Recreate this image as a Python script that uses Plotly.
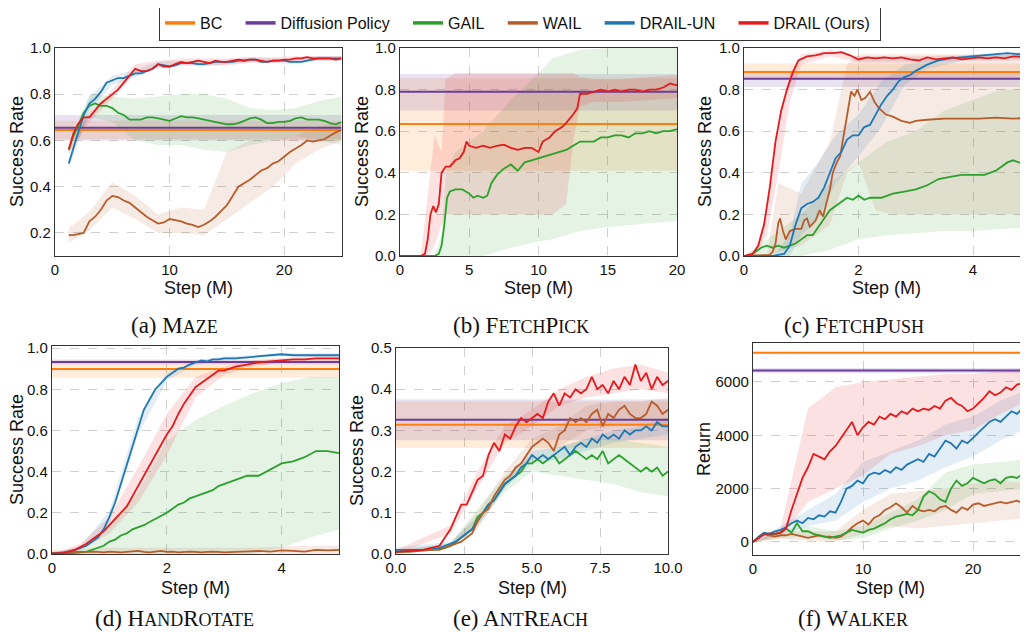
import plotly.graph_objects as go

# ---------------- names / labels ----------------
METHODS = ["BC", "Diffusion Policy", "GAIL", "WAIL", "DRAIL-UN", "DRAIL (Ours)"]
CAPTIONS = ["(a) Maze", "(b) FetchPick", "(c) FetchPush", "(d) HandRotate", "(e) AntReach", "(f) Walker"]
Y_TITLES = ["Success Rate", "Success Rate", "Success Rate", "Success Rate", "Success Rate", "Return"]
X_TITLE = "Step (M)"

# ---------------- (a) MAZE ----------------
A_STEPS = [0, 25]
A_BC = 0.645; A_BC_BAND = [0.605, 0.685]
A_DP = 0.655; A_DP_BAND = [0.60, 0.71]
A_X = [1.2, 1.6, 2.0, 2.5, 3.0, 3.5, 4.0, 4.5, 5.0, 5.5, 6.0, 6.5, 7.0, 7.5, 8.0, 8.5, 9.0, 9.5, 10.0, 10.5,
       11.0, 11.5, 12.0, 12.5, 13.0, 13.5, 14.0, 14.5, 15.0, 15.5, 16.0, 16.5, 17.0, 17.5, 18.0, 18.5, 19.0,
       19.5, 20.0, 20.5, 21.0, 21.5, 22.0, 22.5, 23.0, 23.5, 24.0, 24.5, 25.0]
A_DRAIL = [0.56, 0.63, 0.67, 0.70, 0.70, 0.73, 0.76, 0.78, 0.80, 0.82, 0.85, 0.88, 0.91, 0.90, 0.90, 0.91, 0.93,
           0.92, 0.92, 0.93, 0.94, 0.935, 0.94, 0.945, 0.94, 0.935, 0.945, 0.94, 0.94, 0.945, 0.95, 0.945, 0.95,
           0.95, 0.945, 0.94, 0.945, 0.945, 0.95, 0.95, 0.955, 0.955, 0.96, 0.955, 0.955, 0.955, 0.955, 0.95, 0.955]
A_UN = [0.50, 0.57, 0.63, 0.71, 0.76, 0.78, 0.81, 0.85, 0.86, 0.87, 0.87, 0.88, 0.89, 0.89, 0.90, 0.91, 0.93,
        0.925, 0.92, 0.925, 0.935, 0.935, 0.935, 0.93, 0.93, 0.935, 0.94, 0.94, 0.94, 0.94, 0.945, 0.945, 0.95,
        0.95, 0.94, 0.94, 0.945, 0.945, 0.945, 0.94, 0.94, 0.94, 0.945, 0.95, 0.955, 0.955, 0.955, 0.955, 0.955]
A_GAIL = [0.56, 0.62, 0.66, 0.72, 0.75, 0.76, 0.75, 0.75, 0.74, 0.72, 0.71, 0.69, 0.69, 0.69, 0.70, 0.70, 0.695,
          0.69, 0.685, 0.695, 0.705, 0.70, 0.70, 0.695, 0.69, 0.685, 0.68, 0.675, 0.67, 0.67, 0.675, 0.685, 0.695,
          0.70, 0.69, 0.675, 0.675, 0.68, 0.68, 0.685, 0.695, 0.70, 0.69, 0.69, 0.69, 0.685, 0.675, 0.67, 0.68]
A_WAIL = [0.19, 0.19, 0.195, 0.20, 0.25, 0.27, 0.30, 0.34, 0.36, 0.355, 0.34, 0.33, 0.31, 0.29, 0.27, 0.255, 0.24,
          0.245, 0.26, 0.255, 0.25, 0.24, 0.235, 0.225, 0.235, 0.25, 0.27, 0.295, 0.32, 0.36, 0.40, 0.415, 0.43,
          0.45, 0.47, 0.48, 0.50, 0.51, 0.53, 0.55, 0.565, 0.58, 0.60, 0.595, 0.60, 0.605, 0.62, 0.635, 0.645]
A_BX = [1.2, 3, 5, 7, 9, 11, 13, 15, 17, 19, 21, 23, 25]
A_DRAIL_LO = [0.54, 0.68, 0.78, 0.89, 0.91, 0.925, 0.925, 0.925, 0.935, 0.935, 0.945, 0.945, 0.945]
A_DRAIL_HI = [0.58, 0.72, 0.82, 0.93, 0.945, 0.955, 0.955, 0.955, 0.96, 0.96, 0.965, 0.965, 0.965]
A_UN_LO = [0.48, 0.73, 0.84, 0.875, 0.92, 0.925, 0.92, 0.93, 0.94, 0.935, 0.93, 0.945, 0.945]
A_UN_HI = [0.52, 0.79, 0.88, 0.905, 0.94, 0.945, 0.94, 0.95, 0.96, 0.955, 0.95, 0.965, 0.965]
A_GAIL_LO = [0.54, 0.70, 0.68, 0.60, 0.58, 0.58, 0.56, 0.55, 0.58, 0.60, 0.62, 0.60, 0.58]
A_GAIL_HI = [0.58, 0.80, 0.79, 0.78, 0.79, 0.80, 0.80, 0.78, 0.74, 0.73, 0.74, 0.77, 0.79]
A_WAIL_LO = [0.16, 0.21, 0.31, 0.26, 0.20, 0.20, 0.19, 0.26, 0.33, 0.40, 0.50, 0.56, 0.60]
A_WAIL_HI = [0.22, 0.29, 0.42, 0.36, 0.28, 0.31, 0.30, 0.55, 0.60, 0.60, 0.62, 0.66, 0.68]

# ---------------- (b) FETCHPICK ----------------
B_STEPS = [0, 20]
B_BC = 0.635; B_BC_BAND = [0.41, 0.855]
B_DP = 0.79; B_DP_BAND = [0.70, 0.875]
B_X_DRAIL = [0, 1.5, 1.8, 2.0, 2.2, 2.4, 2.6, 2.8, 3.0, 3.3, 3.6, 4.0, 4.3, 4.6, 4.8, 5.0, 5.5, 6.0, 6.5, 7.0,
             7.5, 8.0, 8.5, 9.0, 9.5, 10.0, 10.3, 10.8, 11.2, 11.7, 12.0, 12.5, 12.8, 13.0, 13.5, 14.0, 14.5,
             15.0, 15.5, 16.0, 16.5, 17.0, 17.5, 18.0, 18.5, 19.0, 19.5, 20.0]
B_DRAIL = [0, 0, 0.01, 0.08, 0.20, 0.24, 0.21, 0.25, 0.40, 0.43, 0.43, 0.46, 0.47, 0.50, 0.55, 0.53, 0.52, 0.53,
           0.52, 0.53, 0.535, 0.52, 0.51, 0.52, 0.52, 0.50, 0.55, 0.57, 0.60, 0.62, 0.64, 0.68, 0.71, 0.78, 0.78,
           0.79, 0.80, 0.79, 0.80, 0.79, 0.80, 0.80, 0.79, 0.80, 0.80, 0.81, 0.83, 0.82]
B_X_GAIL = [0, 2.5, 2.8, 3.0, 3.2, 3.4, 3.6, 4.0, 4.5, 5.0, 5.3, 5.6, 6.0, 6.3, 6.6, 7.0, 7.5, 8.0, 8.5, 9.0,
            9.5, 10.0, 10.5, 11.0, 11.5, 12.0, 12.5, 13.0, 13.5, 14.0, 14.5, 15.0, 15.5, 16.0, 16.5, 17.0, 17.5,
            18.0, 18.5, 19.0, 19.5, 20.0]
B_GAIL = [0, 0, 0.01, 0.05, 0.15, 0.28, 0.31, 0.32, 0.32, 0.30, 0.28, 0.29, 0.28, 0.29, 0.35, 0.39, 0.42, 0.44,
          0.41, 0.45, 0.46, 0.47, 0.48, 0.49, 0.50, 0.51, 0.53, 0.55, 0.55, 0.55, 0.57, 0.57, 0.58, 0.58, 0.57,
          0.59, 0.59, 0.60, 0.59, 0.60, 0.60, 0.61]
B_BX_DRAIL = [1.5, 2.0, 2.5, 3.0, 3.3, 4, 6, 8, 10, 11, 12, 12.5, 13, 14, 16, 18, 20]
B_DRAIL_LO = [0, 0, 0.05, 0.15, 0.2, 0.2, 0.2, 0.2, 0.2, 0.2, 0.25, 0.55, 0.72, 0.74, 0.74, 0.75, 0.76]
B_DRAIL_HI = [0, 0.3, 0.58, 0.5, 0.85, 0.88, 0.88, 0.88, 0.88, 0.88, 0.88, 0.88, 0.86, 0.85, 0.85, 0.86, 0.87]
B_BX_GAIL = [2.5, 3.0, 3.3, 4, 6, 8, 10, 11, 12, 13, 15, 20]
B_GAIL_LO = [0, 0, 0, 0, 0, 0.04, 0.07, 0.08, 0.1, 0.12, 0.14, 0.17]
B_GAIL_HI = [0, 0.1, 0.4, 0.5, 0.6, 0.75, 0.88, 0.95, 0.97, 0.99, 1.0, 1.0]

# ---------------- (c) FETCHPUSH ----------------
C_STEPS = [0, 4.96]
C_BC = 0.885; C_BC_BAND = [0.85, 0.925]
C_DP = 0.852; C_DP_BAND = [0.812, 0.89]
C_X_DRAIL = [0, 0.15, 0.25, 0.35, 0.45, 0.55, 0.65, 0.75, 0.85, 0.95, 1.1, 1.25, 1.4, 1.55, 1.7, 1.85, 2.0,
             2.15, 2.3, 2.45, 2.6, 2.75, 2.9, 3.05, 3.2, 3.35, 3.5, 3.65, 3.8, 3.95, 4.1, 4.25, 4.4, 4.55, 4.7, 4.96]
C_DRAIL = [0, 0.01, 0.05, 0.15, 0.33, 0.55, 0.70, 0.80, 0.88, 0.94, 0.96, 0.965, 0.975, 0.975, 0.98, 0.965,
           0.945, 0.955, 0.95, 0.955, 0.95, 0.955, 0.945, 0.94, 0.955, 0.945, 0.95, 0.955, 0.945, 0.95, 0.955,
           0.95, 0.955, 0.95, 0.96, 0.955]
C_X_UN = [0, 0.5, 0.6, 0.7, 0.8, 0.9, 1.0, 1.1, 1.2, 1.3, 1.4, 1.5, 1.6, 1.7, 1.8, 1.9, 2.0, 2.1, 2.2, 2.3,
          2.4, 2.5, 2.6, 2.7, 2.8, 2.9, 3.0, 3.2, 3.4, 3.6, 3.8, 4.0, 4.2, 4.4, 4.6, 4.8, 4.96]
C_UN = [0, 0, 0.005, 0.01, 0.05, 0.15, 0.23, 0.25, 0.26, 0.28, 0.33, 0.40, 0.47, 0.50, 0.56, 0.58, 0.58, 0.62,
        0.63, 0.68, 0.73, 0.77, 0.80, 0.84, 0.86, 0.87, 0.89, 0.92, 0.94, 0.95, 0.955, 0.96, 0.965, 0.97, 0.975,
        0.97, 0.97]
C_X_WAIL = [0, 0.45, 0.5, 0.55, 0.6, 0.63, 0.68, 0.73, 0.8, 0.9, 1.0, 1.05, 1.1, 1.15, 1.25, 1.32, 1.38, 1.44,
            1.5, 1.55, 1.62, 1.68, 1.73, 1.78, 1.83, 1.87, 1.93, 1.98, 2.05, 2.12, 2.2, 2.28, 2.36, 2.48, 2.6,
            2.75, 2.9, 3.0, 3.2, 3.5, 3.8, 4.1, 4.4, 4.7, 4.96]
C_WAIL = [0, 0.005, 0.02, 0.06, 0.16, 0.18, 0.12, 0.08, 0.12, 0.13, 0.13, 0.17, 0.18, 0.14, 0.17, 0.22, 0.19,
          0.25, 0.32, 0.40, 0.45, 0.48, 0.56, 0.64, 0.74, 0.79, 0.77, 0.80, 0.75, 0.76, 0.79, 0.74, 0.71, 0.68,
          0.67, 0.65, 0.64, 0.65, 0.655, 0.66, 0.66, 0.66, 0.665, 0.66, 0.665]
C_X_GAIL = [0, 0.1, 0.2, 0.3, 0.4, 0.5, 0.6, 0.7, 0.8, 0.9, 1.0, 1.1, 1.2, 1.3, 1.4, 1.5, 1.6, 1.7, 1.8, 1.9,
            2.0, 2.1, 2.2, 2.4, 2.6, 2.8, 3.0, 3.2, 3.4, 3.6, 3.8, 4.0, 4.2, 4.4, 4.6, 4.7, 4.8, 4.96]
C_GAIL = [0, 0, 0.02, 0.04, 0.05, 0.04, 0.05, 0.04, 0.05, 0.06, 0.08, 0.10, 0.10, 0.14, 0.18, 0.22, 0.24, 0.26,
          0.28, 0.27, 0.29, 0.27, 0.28, 0.28, 0.30, 0.31, 0.32, 0.34, 0.37, 0.38, 0.39, 0.39, 0.39, 0.41, 0.45,
          0.46, 0.45, 0.44]
C_BX_DRAIL = [0, 0.2, 0.4, 0.6, 0.8, 1.0, 1.5, 2.0, 3.0, 4.0, 4.96]
C_DRAIL_LO = [0, 0, 0.1, 0.4, 0.74, 0.92, 0.96, 0.93, 0.93, 0.94, 0.94]
C_DRAIL_HI = [0, 0.03, 0.22, 0.62, 0.88, 0.97, 0.99, 0.96, 0.96, 0.965, 0.965]
C_BX_UN = [0.5, 0.8, 1.0, 1.3, 1.6, 2.0, 2.4, 2.8, 3.2, 4.0, 4.96]
C_UN_LO = [0, 0, 0.1, 0.18, 0.35, 0.48, 0.62, 0.82, 0.9, 0.95, 0.96]
C_UN_HI = [0, 0.1, 0.35, 0.45, 0.58, 0.68, 0.84, 0.92, 0.94, 0.97, 0.98]
C_BX_WAIL = [0.4, 0.6, 1.0, 1.5, 1.8, 2.0, 2.3, 2.6, 4.96]
C_WAIL_LO = [0, 0.02, 0.05, 0.15, 0.4, 0.45, 0.22, 0.2, 0.2]
C_WAIL_HI = [0, 0.35, 0.3, 0.55, 0.92, 0.97, 0.97, 0.97, 0.97]
C_BX_GAIL = [0, 0.5, 1.0, 1.5, 2.0, 2.5, 3.0, 3.5, 4.0, 4.5, 4.96]
C_GAIL_LO = [0, 0, 0.0, 0.03, 0.08, 0.1, 0.11, 0.12, 0.12, 0.13, 0.14]
C_GAIL_HI = [0, 0.1, 0.2, 0.35, 0.45, 0.55, 0.6, 0.7, 0.75, 0.8, 0.8]

# ---------------- (d) HANDROTATE ----------------
D_STEPS = [0, 5]
D_BC = 0.898; D_BC_BAND = [0.856, 0.94]
D_DP = 0.932; D_DP_BAND = [0.92, 0.945]
D_X = [0, 0.2, 0.4, 0.6, 0.7, 0.8, 0.9, 1.0, 1.1, 1.2, 1.3, 1.4, 1.5, 1.6, 1.7, 1.8, 1.9, 2.0, 2.1, 2.2, 2.3,
       2.4, 2.5, 2.6, 2.7, 2.8, 2.9, 3.0, 3.2, 3.4, 3.6, 3.8, 4.0, 4.2, 4.4, 4.6, 4.8, 5.0]
D_UN = [0, 0.005, 0.02, 0.04, 0.06, 0.08, 0.12, 0.18, 0.25, 0.34, 0.43, 0.53, 0.62, 0.70, 0.75, 0.80, 0.83,
        0.86, 0.88, 0.90, 0.905, 0.92, 0.93, 0.94, 0.935, 0.945, 0.945, 0.95, 0.95, 0.955, 0.96, 0.965, 0.97,
        0.965, 0.965, 0.965, 0.965, 0.965]
D_DRAIL = [0, 0.005, 0.02, 0.05, 0.07, 0.09, 0.11, 0.14, 0.17, 0.20, 0.23, 0.28, 0.33, 0.38, 0.43, 0.48, 0.53,
           0.58, 0.62, 0.68, 0.73, 0.77, 0.81, 0.83, 0.85, 0.87, 0.89, 0.89, 0.91, 0.92, 0.93, 0.935, 0.94,
           0.945, 0.945, 0.95, 0.95, 0.95]
D_GAIL = [0, 0.002, 0.005, 0.01, 0.02, 0.03, 0.04, 0.06, 0.07, 0.09, 0.10, 0.12, 0.13, 0.14, 0.155, 0.17,
          0.185, 0.20, 0.22, 0.24, 0.25, 0.27, 0.28, 0.29, 0.30, 0.31, 0.33, 0.34, 0.36, 0.38, 0.38, 0.41, 0.44,
          0.45, 0.47, 0.50, 0.50, 0.49]
D_WAIL = [0.005, 0.008, 0.01, 0.01, 0.012, 0.01, 0.008, 0.012, 0.01, 0.008, 0.01, 0.012, 0.015, 0.01, 0.008,
          0.012, 0.015, 0.01, 0.012, 0.008, 0.01, 0.012, 0.01, 0.008, 0.01, 0.012, 0.01, 0.008, 0.01, 0.012,
          0.015, 0.012, 0.018, 0.015, 0.012, 0.02, 0.018, 0.02]
D_BX = [0, 0.5, 1.0, 1.5, 2.0, 2.5, 3.0, 3.5, 4.0, 4.5, 5.0]
D_UN_LO = [0, 0.02, 0.15, 0.58, 0.84, 0.92, 0.94, 0.95, 0.96, 0.96, 0.96]
D_UN_HI = [0, 0.04, 0.21, 0.66, 0.88, 0.94, 0.96, 0.965, 0.975, 0.975, 0.975]
D_DRAIL_LO = [0, 0.02, 0.10, 0.25, 0.48, 0.76, 0.87, 0.91, 0.93, 0.94, 0.94]
D_DRAIL_HI = [0, 0.05, 0.18, 0.42, 0.68, 0.86, 0.91, 0.94, 0.95, 0.96, 0.96]
D_GAIL_LO = [0, 0, 0, 0, 0, 0, 0, 0, 0.03, 0.08, 0.12]
D_GAIL_HI = [0, 0.02, 0.15, 0.3, 0.55, 0.65, 0.72, 0.78, 0.83, 0.86, 0.86]
D_WAIL_LO = [0, 0, 0, 0, 0, 0, 0, 0, 0, 0, 0]
D_WAIL_HI = [0.02, 0.025, 0.03, 0.03, 0.03, 0.03, 0.03, 0.03, 0.035, 0.04, 0.04]

# ---------------- (e) ANTREACH ----------------
E_STEPS = [0, 10]
E_BC = 0.314; E_BC_BAND = [0.257, 0.37]
E_DP = 0.326; E_DP_BAND = [0.276, 0.375]
E_X = [0, 0.5, 1.0, 1.3, 1.6, 1.8, 2.0, 2.2, 2.4, 2.6, 2.8, 3.0, 3.2, 3.4, 3.6, 3.8, 4.0, 4.2, 4.4, 4.6, 4.8,
       5.0, 5.2, 5.4, 5.6, 5.8, 6.0, 6.2, 6.4, 6.6, 6.8, 7.0, 7.2, 7.4, 7.6, 7.8, 8.0, 8.2, 8.4, 8.6, 8.8, 9.0,
       9.2, 9.4, 9.6, 9.8, 10.0]
E_DRAIL = [0.005, 0.008, 0.01, 0.015, 0.02, 0.04, 0.06, 0.09, 0.12, 0.12, 0.15, 0.18, 0.19, 0.24, 0.27, 0.25,
           0.29, 0.28, 0.31, 0.33, 0.32, 0.33, 0.34, 0.33, 0.37, 0.39, 0.36, 0.39, 0.38, 0.40, 0.39, 0.40, 0.43,
           0.40, 0.41, 0.39, 0.42, 0.40, 0.43, 0.41, 0.46, 0.42, 0.44, 0.40, 0.43, 0.41, 0.42]
E_WAIL = [0.005, 0.005, 0.008, 0.01, 0.01, 0.015, 0.02, 0.025, 0.03, 0.04, 0.05, 0.08, 0.10, 0.11, 0.14, 0.16,
          0.18, 0.19, 0.21, 0.22, 0.24, 0.26, 0.27, 0.28, 0.27, 0.25, 0.29, 0.30, 0.33, 0.32, 0.33, 0.32, 0.34,
          0.35, 0.31, 0.34, 0.33, 0.35, 0.36, 0.34, 0.33, 0.33, 0.34, 0.37, 0.36, 0.34, 0.35]
E_UN = [0.01, 0.01, 0.01, 0.012, 0.015, 0.02, 0.025, 0.03, 0.04, 0.05, 0.06, 0.08, 0.10, 0.12, 0.13, 0.15,
        0.17, 0.18, 0.19, 0.21, 0.22, 0.24, 0.23, 0.24, 0.23, 0.24, 0.25, 0.26, 0.24, 0.26, 0.27, 0.26, 0.28,
        0.27, 0.29, 0.28, 0.29, 0.28, 0.30, 0.29, 0.30, 0.30, 0.31, 0.30, 0.32, 0.31, 0.31]
E_GAIL = [0.005, 0.008, 0.01, 0.01, 0.012, 0.015, 0.02, 0.03, 0.04, 0.05, 0.06, 0.09, 0.10, 0.12, 0.13, 0.15,
          0.17, 0.18, 0.19, 0.20, 0.22, 0.22, 0.23, 0.22, 0.23, 0.24, 0.22, 0.23, 0.24, 0.25, 0.24, 0.23, 0.24,
          0.23, 0.25, 0.22, 0.23, 0.24, 0.23, 0.22, 0.21, 0.20, 0.21, 0.20, 0.21, 0.19, 0.20]
E_BX = [0, 2, 3, 4, 5, 6, 7, 8, 9, 10]
E_DRAIL_LO = [0, 0.05, 0.16, 0.27, 0.31, 0.36, 0.38, 0.39, 0.40, 0.39]
E_DRAIL_HI = [0.01, 0.07, 0.20, 0.31, 0.35, 0.40, 0.43, 0.45, 0.46, 0.44]
E_WAIL_LO = [0, 0.015, 0.06, 0.16, 0.24, 0.26, 0.30, 0.31, 0.31, 0.32]
E_WAIL_HI = [0.01, 0.025, 0.10, 0.20, 0.28, 0.31, 0.36, 0.37, 0.37, 0.38]
E_UN_LO = [0.005, 0.02, 0.07, 0.16, 0.22, 0.23, 0.25, 0.27, 0.28, 0.29]
E_UN_HI = [0.015, 0.03, 0.09, 0.18, 0.25, 0.26, 0.28, 0.30, 0.31, 0.33]
E_GAIL_LO = [0, 0.015, 0.07, 0.15, 0.20, 0.19, 0.18, 0.17, 0.15, 0.14]
E_GAIL_HI = [0.01, 0.025, 0.11, 0.19, 0.24, 0.26, 0.28, 0.28, 0.27, 0.26]

# ---------------- (f) WALKER ----------------
F_STEPS = [0, 25]
F_BC = 7090; F_BC_BAND = [7050, 7130]
F_DP = 6425; F_DP_BAND = [6330, 6520]
F_X = [0, 0.5, 1, 1.5, 2, 2.5, 3, 3.5, 4, 4.5, 5, 5.5, 6, 6.5, 7, 7.5, 8, 8.5, 9, 9.5, 10, 10.5, 11, 11.5, 12,
       12.5, 13, 13.5, 14, 14.5, 15, 15.5, 16, 16.5, 17, 17.5, 18, 18.5, 19, 19.5, 20, 20.5, 21, 21.5, 22, 22.5,
       23, 23.5, 24, 24.5, 25]
F_DRAIL = [0, 150, 280, 320, 300, 350, 500, 1200, 1800, 2400, 2800, 3300, 3200, 3100, 3400, 3600, 3900, 4200,
           4500, 4000, 4300, 4500, 4400, 4700, 4600, 4800, 4700, 4900, 4800, 5000, 4900, 5000, 4950, 5100, 5000,
           5300, 5400, 5200, 5100, 4900, 5000, 5200, 5400, 5650, 5500, 5600, 5800, 5700, 5900, 5950, 6000]
F_UN = [0, 200, 350, 300, 400, 450, 550, 700, 800, 700, 900, 850, 1000, 950, 1150, 1100, 1500, 2000, 2100,
        2300, 2200, 2500, 2600, 2550, 2700, 2600, 2800, 2700, 2900, 3000, 3100, 3000, 3300, 3200, 3500, 3800,
        3700, 3500, 3800, 3700, 3900, 4100, 4300, 4500, 4600, 4500, 4700, 4900, 4800, 5000, 4900]
F_GAIL = [0, 150, 300, 250, 300, 350, 500, 350, 700, 400, 400, 300, 250, 200, 150, 200, 250, 350, 450, 400,
          350, 450, 500, 600, 700, 850, 950, 1000, 1050, 1000, 1200, 1700, 1900, 1800, 1600, 1500, 2000, 2300,
          2100, 2200, 2400, 2300, 2200, 2300, 2350, 2200, 2400, 2450, 2400, 2550, 2550]
F_WAIL = [0, 150, 300, 250, 200, 250, 250, 300, 250, 200, 150, 200, 250, 200, 200, 150, 200, 350, 550, 700,
          800, 650, 900, 1000, 1200, 1300, 1450, 1300, 1100, 1350, 1200, 1150, 1200, 1150, 1300, 1350, 1200,
          1100, 1300, 1200, 1400, 1450, 1350, 1400, 1450, 1500, 1450, 1500, 1550, 1450, 1500]
F_BX = [0, 2.5, 5, 7.5, 10, 12.5, 15, 17.5, 20, 22.5, 25]
F_DRAIL_LO = [0, 200, 1500, 2000, 2500, 3300, 3600, 4000, 4200, 4800, 5300]
F_DRAIL_HI = [0, 500, 5000, 5800, 6000, 6100, 6200, 6300, 6300, 6400, 6500]
F_UN_LO = [0, 300, 600, 800, 1500, 2000, 2300, 2800, 3200, 3800, 4300]
F_UN_HI = [0, 600, 1200, 1800, 3000, 3400, 3800, 4400, 4700, 5300, 5700]
F_GAIL_LO = [0, 150, 200, 50, 150, 500, 800, 1200, 1800, 1900, 2000]
F_GAIL_HI = [0, 450, 600, 400, 600, 1100, 1600, 2600, 2900, 3000, 3100]
F_WAIL_LO = [0, 100, 50, 0, 300, 600, 500, 600, 700, 800, 900]
F_WAIL_HI = [0, 400, 400, 400, 1200, 1800, 1900, 2000, 2200, 2300, 2200]

# ---------------- style ----------------
COL = {"BC": "#ff7f0e", "Diffusion Policy": "#6a3d9a", "GAIL": "#2ca02c", "WAIL": "#b85c2c",
       "DRAIL-UN": "#1f77b4", "DRAIL (Ours)": "#e41a1c"}


def rgba(hexc, a):
    h = hexc.lstrip("#")
    return "rgba(%d,%d,%d,%.3f)" % (int(h[0:2], 16), int(h[2:4], 16), int(h[4:6], 16), a)


fig = go.Figure()


def band(i, x, lo, hi, name, a=0.13):
    fig.add_trace(go.Scatter(
        x=list(x) + list(x)[::-1], y=list(hi) + list(lo)[::-1], fill="toself",
        fillcolor=rgba(COL[name], a), line=dict(width=0), mode="lines", hoverinfo="skip",
        showlegend=False, xaxis="x%d" % i, yaxis="y%d" % i))


def line(i, x, y, name, w=1.8):
    fig.add_trace(go.Scatter(
        x=x, y=y, mode="lines", line=dict(color=COL[name], width=w), showlegend=False,
        name=name, xaxis="x%d" % i, yaxis="y%d" % i))


def hband(i, steps, bnd, name):
    band(i, steps, [bnd[0]] * 2, [bnd[1]] * 2, name, 0.15)


def hline(i, steps, val, name):
    line(i, steps, [val, val], name, 2.0)


panels = [
    dict(steps=A_STEPS, bc=A_BC, bcb=A_BC_BAND, dp=A_DP, dpb=A_DP_BAND,
         bands=[(A_BX, A_GAIL_LO, A_GAIL_HI, "GAIL"), (A_BX, A_WAIL_LO, A_WAIL_HI, "WAIL"),
                (A_BX, A_UN_LO, A_UN_HI, "DRAIL-UN"), (A_BX, A_DRAIL_LO, A_DRAIL_HI, "DRAIL (Ours)")],
         lines=[(A_X, A_GAIL, "GAIL"), (A_X, A_WAIL, "WAIL"), (A_X, A_UN, "DRAIL-UN"), (A_X, A_DRAIL, "DRAIL (Ours)")]),
    dict(steps=B_STEPS, bc=B_BC, bcb=B_BC_BAND, dp=B_DP, dpb=B_DP_BAND,
         bands=[(B_BX_GAIL, B_GAIL_LO, B_GAIL_HI, "GAIL"), (B_BX_DRAIL, B_DRAIL_LO, B_DRAIL_HI, "DRAIL (Ours)")],
         lines=[(B_X_GAIL, B_GAIL, "GAIL"), (B_X_DRAIL, B_DRAIL, "DRAIL (Ours)")]),
    dict(steps=C_STEPS, bc=C_BC, bcb=C_BC_BAND, dp=C_DP, dpb=C_DP_BAND,
         bands=[(C_BX_GAIL, C_GAIL_LO, C_GAIL_HI, "GAIL"), (C_BX_WAIL, C_WAIL_LO, C_WAIL_HI, "WAIL"),
                (C_BX_UN, C_UN_LO, C_UN_HI, "DRAIL-UN"), (C_BX_DRAIL, C_DRAIL_LO, C_DRAIL_HI, "DRAIL (Ours)")],
         lines=[(C_X_GAIL, C_GAIL, "GAIL"), (C_X_WAIL, C_WAIL, "WAIL"), (C_X_UN, C_UN, "DRAIL-UN"),
                (C_X_DRAIL, C_DRAIL, "DRAIL (Ours)")]),
    dict(steps=D_STEPS, bc=D_BC, bcb=D_BC_BAND, dp=D_DP, dpb=D_DP_BAND,
         bands=[(D_BX, D_GAIL_LO, D_GAIL_HI, "GAIL"), (D_BX, D_WAIL_LO, D_WAIL_HI, "WAIL"),
                (D_BX, D_UN_LO, D_UN_HI, "DRAIL-UN"), (D_BX, D_DRAIL_LO, D_DRAIL_HI, "DRAIL (Ours)")],
         lines=[(D_X, D_GAIL, "GAIL"), (D_X, D_WAIL, "WAIL"), (D_X, D_UN, "DRAIL-UN"), (D_X, D_DRAIL, "DRAIL (Ours)")]),
    dict(steps=E_STEPS, bc=E_BC, bcb=E_BC_BAND, dp=E_DP, dpb=E_DP_BAND,
         bands=[(E_BX, E_GAIL_LO, E_GAIL_HI, "GAIL"), (E_BX, E_WAIL_LO, E_WAIL_HI, "WAIL"),
                (E_BX, E_UN_LO, E_UN_HI, "DRAIL-UN"), (E_BX, E_DRAIL_LO, E_DRAIL_HI, "DRAIL (Ours)")],
         lines=[(E_X, E_GAIL, "GAIL"), (E_X, E_UN, "DRAIL-UN"), (E_X, E_WAIL, "WAIL"), (E_X, E_DRAIL, "DRAIL (Ours)")]),
    dict(steps=F_STEPS, bc=F_BC, bcb=F_BC_BAND, dp=F_DP, dpb=F_DP_BAND,
         bands=[(F_BX, F_GAIL_LO, F_GAIL_HI, "GAIL"), (F_BX, F_WAIL_LO, F_WAIL_HI, "WAIL"),
                (F_BX, F_UN_LO, F_UN_HI, "DRAIL-UN"), (F_BX, F_DRAIL_LO, F_DRAIL_HI, "DRAIL (Ours)")],
         lines=[(F_X, F_WAIL, "WAIL"), (F_X, F_GAIL, "GAIL"), (F_X, F_UN, "DRAIL-UN"), (F_X, F_DRAIL, "DRAIL (Ours)")]),
]

for k, p in enumerate(panels, start=1):
    hband(k, p["steps"], p["bcb"], "BC")
    hband(k, p["steps"], p["dpb"], "Diffusion Policy")
    for bx, lo, hi, nm in p["bands"]:
        band(k, bx, lo, hi, nm)
    hline(k, p["steps"], p["bc"], "BC")
    hline(k, p["steps"], p["dp"], "Diffusion Policy")
    for x, y, nm in p["lines"]:
        line(k, x, y, nm)

# legend entries (trailing no-break spaces widen the gap between items)
for j, nm in enumerate(METHODS):
    label = nm + ("\u00a0\u00a0\u00a0" if j < len(METHODS) - 1 else "\u00a0")
    fig.add_trace(go.Scatter(x=[None], y=[None], mode="lines", name=label,
                             line=dict(color=COL[nm], width=3.5), xaxis="x1", yaxis="y1"))

# ---- page geometry: the html body has an 8px margin, so the figure starts at (8, 8) of the window
OFF = 8
W, H = 1028 - OFF, 632 - OFF


def px(xw):
    return (xw - OFF) / W


def py(yw):
    return 1 - (yw - OFF) / H


# plotting areas in window pixels: (left, right, top, bottom)
BOXES = [(55, 341.5, 48, 256), (400, 677, 48, 256), (744, 1028, 48, 256),
         (52, 339, 346, 554), (396, 668, 348, 554), (753, 1028, 343, 555)]
XRANGES = [[0, 25], [0, 20], [0, 4.96], [0, 5.0], [0, 10], [0, 25]]
YRANGES = [[0.1, 1.0], [0, 1.0], [0, 1.0], [0, 1.01], [0, 0.5], [-490, 7460]]
XTICKS = [[0, 10, 20], [0, 5, 10, 15, 20], [0, 2, 4], [0, 2, 4], [0, 2.5, 5, 7.5, 10], [0, 10, 20]]
XFMT = ["d", "d", "d", "d", ".1f", "d"]
YTICKS = [[0.2, 0.4, 0.6, 0.8, 1.0], [0, 0.2, 0.4, 0.6, 0.8, 1.0], [0, 0.2, 0.4, 0.6, 0.8, 1.0],
          [0, 0.2, 0.4, 0.6, 0.8, 1.0], [0, 0.1, 0.2, 0.3, 0.4, 0.5], [0, 2000, 4000, 6000]]
YFMT = [".1f", ".1f", ".1f", ".1f", ".1f", "d"]
# axis-title centres in window pixels
XTITLE_Y = [288, 288, 288, 588, 588, 588]
YTITLE_X = [17, 362, 705, 17, 357, 704]

FONT = "Liberation Sans, Arial, sans-serif"
lay = {}
ann = []
for i, (l, r, t, b) in enumerate(BOXES, start=1):
    common = dict(showgrid=True, gridcolor="#cfcfcf", griddash="dash", gridwidth=1, zeroline=False,
                  showline=True, linecolor="#333333", linewidth=1.2, mirror=True, ticks="", ticklen=0,
                  automargin=False, tickfont=dict(family=FONT, size=15, color="#111"))
    lay["xaxis%d" % i] = dict(common, domain=[px(l), px(r)], anchor="y%d" % i, range=XRANGES[i - 1],
                              tickvals=XTICKS[i - 1], tickformat=XFMT[i - 1])
    lay["yaxis%d" % i] = dict(common, domain=[py(b), py(t)], anchor="x%d" % i, range=YRANGES[i - 1],
                              tickvals=YTICKS[i - 1], tickformat=YFMT[i - 1])
    ann.append(dict(text=X_TITLE, x=px((l + r) / 2), y=py(XTITLE_Y[i - 1]), xref="paper", yref="paper",
                    xanchor="center", yanchor="middle", showarrow=False,
                    font=dict(family=FONT, size=18, color="#111")))
    ann.append(dict(text=Y_TITLES[i - 1], x=px(YTITLE_X[i - 1]), y=py((t + b) / 2), xref="paper",
                    yref="paper", xanchor="center", yanchor="middle", showarrow=False, textangle=-90,
                    font=dict(family=FONT, size=18, color="#111")))


def smallcaps(s, small=18):
    out = []
    for ch in s:
        if ch.islower():
            out.append("<span style='font-size:%gpx'>%s</span>" % (small, ch.upper()))
        else:
            out.append(ch)
    return "".join(out)


CAP_X = [174, 521, 854, 174, 520, 853]
CAP_Y = [325, 325, 325, 618, 618, 618]
for i, c in enumerate(CAPTIONS):
    lab, word = c.split(" ", 1)
    txt = lab + " " + smallcaps(word)
    ann.append(dict(text=txt, x=px(CAP_X[i]), y=py(CAP_Y[i]), xref="paper", yref="paper",
                    xanchor="center", yanchor="middle", showarrow=False,
                    font=dict(family="Liberation Serif, Times New Roman, serif", size=23, color="#111")))

fig.update_layout(
    width=W, height=H, autosize=False, margin=dict(l=0, r=0, t=0, b=0, autoexpand=False),
    paper_bgcolor="white", plot_bgcolor="white",
    showlegend=True,
    legend=dict(orientation="h", x=px(520), xanchor="center", y=py(5), yanchor="top",
                font=dict(family=FONT, size=16, color="#111"), bordercolor="#333", borderwidth=1,
                bgcolor="white", itemwidth=30, tracegroupgap=0),
    annotations=ann,
    **lay,
)

fig.write_html("out.html")
